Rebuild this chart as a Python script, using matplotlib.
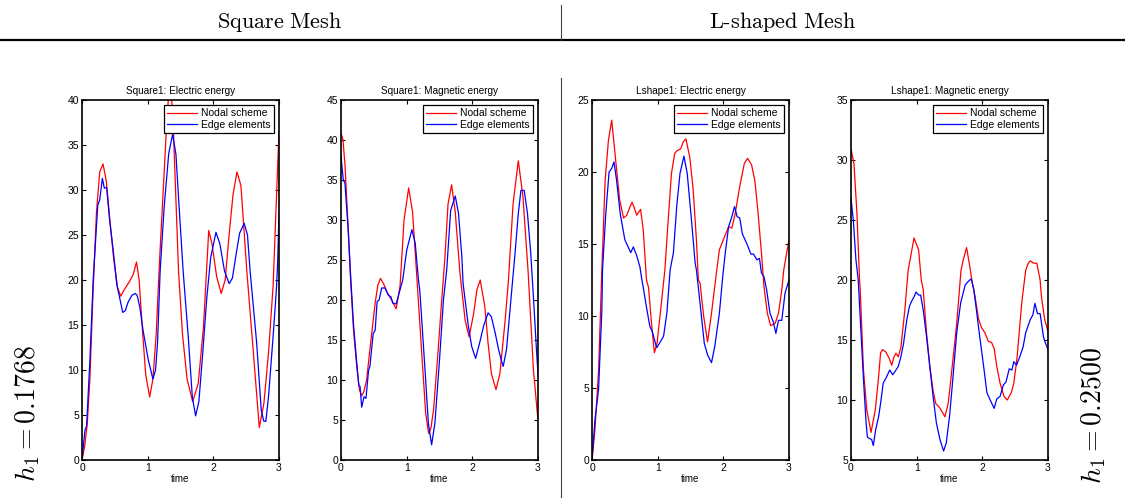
import matplotlib
matplotlib.use("Agg")
import matplotlib.pyplot as plt
from matplotlib.lines import Line2D

plt.rcParams['font.family'] = ['Liberation Sans', 'DejaVu Sans']
plt.rcParams['mathtext.fontset'] = 'cm'

# Square1: electric energy
sq_elec_nodal_t = [0, 0.04, 0.08, 0.12, 0.17, 0.22, 0.27, 0.32, 0.37, 0.42, 0.48, 0.54, 0.59,
                   0.65, 0.72, 0.78, 0.83, 0.87, 0.92, 0.97, 1.03, 1.08, 1.13, 1.18, 1.23, 1.28,
                   1.33, 1.38, 1.43, 1.47, 1.53, 1.6, 1.685, 1.77, 1.85, 1.93, 1.98, 2.05, 2.12,
                   2.18, 2.24, 2.3, 2.36, 2.42, 2.51, 2.61, 2.7, 2.77, 2.84, 2.91, 2.95, 3.0]
sq_elec_nodal_v = [0, 1.5, 4, 9, 19, 27.5, 32, 32.9, 31, 27, 22.5, 19.2, 18.2,
                   19.0, 19.8, 20.6, 22.0, 20, 14.5, 9.5, 7.0, 9, 14, 22, 29, 36,
                   42, 39, 29, 21, 14, 9, 6.5, 8.5, 14.8, 25.5, 24, 20.4, 18.5,
                   20, 25, 29.5, 32, 30.5, 21, 11.9, 3.6, 6.3, 11.9, 19.3, 27, 36.5]
sq_elec_edge_t = [0, 0.02, 0.045, 0.07, 0.12, 0.17, 0.24, 0.27, 0.31, 0.34, 0.375, 0.42, 0.48,
                  0.53, 0.58, 0.62, 0.66, 0.7, 0.76, 0.81, 0.84, 0.88, 0.93, 1.01, 1.08, 1.12,
                  1.15, 1.19, 1.25, 1.32, 1.38, 1.43, 1.48, 1.54, 1.62, 1.68, 1.73, 1.78, 1.84,
                  1.9, 1.96, 2.04, 2.1, 2.17, 2.24, 2.29, 2.35, 2.4, 2.47, 2.52, 2.56, 2.66,
                  2.73, 2.77, 2.8, 2.84, 2.91, 2.96, 2.98, 3.0]
sq_elec_edge_v = [0, 1.5, 3.3, 3.8, 11, 20, 28.3, 28.9, 31.3, 30.2, 30.3, 26.7, 23,
                  19.5, 17.8, 16.4, 16.6, 17.5, 18.3, 18.5, 18.3, 17, 14.4, 11.1, 9.0, 10,
                  13, 21, 28, 34, 36.2, 34, 28, 21, 13.5, 7, 4.9, 6.5, 12,
                  18, 22.5, 25.3, 24, 21, 19.6, 20.2, 23, 25.2, 26.3, 25, 21, 13,
                  5.5, 4.3, 4.3, 7, 13.7, 18.9, 22, 27.5]

# Square1: magnetic energy
sq_mag_nodal_t = [0, 0.03, 0.06, 0.11, 0.14, 0.19, 0.24, 0.28, 0.315, 0.35, 0.39, 0.44, 0.52,
                  0.56, 0.6, 0.65, 0.7, 0.77, 0.84, 0.9, 0.96, 1.03, 1.09, 1.15, 1.23, 1.29,
                  1.335, 1.37, 1.41, 1.48, 1.53, 1.58, 1.63, 1.685, 1.74, 1.81, 1.89, 1.95,
                  2.02, 2.07, 2.12, 2.19, 2.24, 2.29, 2.36, 2.42, 2.5, 2.55, 2.62, 2.7, 2.77,
                  2.85, 2.93, 3.0]
sq_mag_nodal_v = [40.9, 40, 37, 28.8, 23.5, 16.3, 11.7, 8.8, 8.0, 8.6, 10, 13.8, 19.6,
                  21.8, 22.7, 22, 21, 20, 18.9, 21.8, 30, 34, 31, 23.5, 13.3, 5.8,
                  3.3, 4, 6.3, 13.8, 19.6, 25, 32, 34.4, 31, 23.5, 17.5, 15.4,
                  18.3, 21.3, 22.5, 19.2, 14.6, 10.8, 8.8, 10.8, 17.5, 22.5, 32, 37.4, 33,
                  23.5, 11.3, 4.9]
sq_mag_edge_t = [0, 0.035, 0.06, 0.11, 0.15, 0.19, 0.24, 0.27, 0.29, 0.315, 0.35, 0.38, 0.42,
                 0.44, 0.49, 0.52, 0.55, 0.58, 0.62, 0.67, 0.72, 0.76, 0.79, 0.84, 0.89, 0.94,
                 1.0, 1.08, 1.13, 1.18, 1.2, 1.28, 1.33, 1.38, 1.43, 1.5, 1.56, 1.61, 1.67,
                 1.74, 1.79, 1.84, 1.86, 1.94, 1.99, 2.05, 2.11, 2.17, 2.24, 2.29, 2.35, 2.4,
                 2.44, 2.47, 2.52, 2.56, 2.6, 2.65, 2.7, 2.74, 2.79, 2.84, 2.89, 2.93, 2.98, 3.0]
sq_mag_edge_v = [38, 35, 34.6, 28.8, 22.5, 17, 12.1, 9.4, 9.2, 6.6, 7.9, 7.7, 11.2,
                 11.7, 15.8, 16.2, 19.8, 20, 21.5, 21.5, 20.6, 20.4, 19.6, 19.5, 21, 22.5,
                 26.2, 28.8, 27.1, 22.5, 21.2, 11.2, 4.6, 1.9, 4.6, 12.5, 20, 23.8, 31.2,
                 33, 30.8, 25.4, 22, 16.7, 14.2, 12.7, 14.6, 16.7, 18.4, 17.9, 15.8, 13.8,
                 12.5, 11.7, 13.8, 17.5, 21.2, 25.8, 30.8, 33.7, 33.7, 30.8, 25.8, 20.4, 13.3, 10.8]

# Lshape1: electric energy
ls_elec_nodal_t = [0, 0.045, 0.1, 0.15, 0.2, 0.25, 0.3, 0.35, 0.42, 0.48, 0.53, 0.58, 0.61,
                   0.645, 0.68, 0.74, 0.78, 0.83, 0.86, 0.91, 0.95, 0.99, 1.04, 1.11, 1.15, 1.21,
                   1.26, 1.3, 1.35, 1.39, 1.43, 1.49, 1.54, 1.59, 1.62, 1.645, 1.7, 1.76, 1.82,
                   1.9, 1.94, 2.0, 2.08, 2.13, 2.18, 2.25, 2.32, 2.37, 2.43, 2.48, 2.53, 2.58,
                   2.62, 2.67, 2.72, 2.79, 2.84, 2.89, 2.92, 3.0]
ls_elec_nodal_v = [0, 2.1, 6.2, 13.2, 19.4, 22.2, 23.6, 21.3, 18.1, 16.8, 17.0, 17.6, 17.9,
                   17.5, 17.0, 17.4, 16.0, 12.5, 12.0, 9.3, 7.45, 8.1, 10.2, 13.2, 16, 19.9,
                   21.3, 21.5, 21.6, 22.1, 22.3, 21, 18.8, 15.3, 12.5, 12.3, 10, 8.2, 10.2,
                   13.2, 14.6, 15.3, 16.2, 16.1, 17.1, 19, 20.6, 20.95, 20.5, 19.4, 17.1, 14.4,
                   12.0, 10.2, 9.33, 9.5, 10.2, 11.8, 13.2, 15.3]
ls_elec_edge_t = [0, 0.045, 0.1, 0.15, 0.16, 0.21, 0.26, 0.3, 0.335, 0.375, 0.43, 0.5, 0.55,
                  0.59, 0.63, 0.68, 0.73, 0.76, 0.78, 0.83, 0.88, 0.92, 0.96, 0.985, 1.04, 1.09,
                  1.14, 1.19, 1.24, 1.29, 1.34, 1.4, 1.45, 1.52, 1.57, 1.59, 1.645, 1.71, 1.76,
                  1.82, 1.87, 1.94, 1.99, 2.03, 2.08, 2.13, 2.17, 2.21, 2.25, 2.29, 2.36, 2.42,
                  2.46, 2.51, 2.55, 2.58, 2.62, 2.66, 2.71, 2.76, 2.8, 2.84, 2.89, 2.94, 3.0]
ls_elec_edge_v = [0, 2.8, 4.9, 10.4, 13.2, 17.1, 20, 20.25, 20.7, 19.4, 17.1, 15.3, 14.8,
                  14.4, 14.8, 14.2, 13.4, 12.5, 12.0, 10.6, 9.3, 8.9, 8.2, 7.8, 8.2, 8.6,
                  10.2, 13.2, 14.4, 17.6, 19.9, 21.1, 19.9, 16.4, 13.7, 13.2, 10.9, 8.1, 7.3,
                  6.76, 7.9, 10.2, 12.7, 14.4, 16.2, 16.9, 17.6, 16.9, 16.8, 15.7, 15.0, 14.3,
                  14.3, 13.9, 14.0, 13.0, 12.7, 11.8, 10.2, 9.6, 8.8, 9.7, 9.7, 11.6, 12.5]

# Lshape1: magnetic energy
ls_mag_nodal_t = [0, 0.045, 0.09, 0.13, 0.14, 0.19, 0.24, 0.305, 0.37, 0.42, 0.45, 0.48, 0.53,
                  0.58, 0.62, 0.655, 0.685, 0.72, 0.76, 0.82, 0.87, 0.9, 0.96, 1.03, 1.07, 1.1,
                  1.15, 1.2, 1.25, 1.29, 1.345, 1.4, 1.43, 1.48, 1.53, 1.61, 1.675, 1.71, 1.76,
                  1.81, 1.84, 1.89, 1.94, 1.99, 2.04, 2.09, 2.14, 2.18, 2.22, 2.27, 2.33, 2.38,
                  2.44, 2.48, 2.53, 2.6, 2.66, 2.7, 2.73, 2.78, 2.83, 2.88, 2.9, 2.95, 3.0]
ls_mag_nodal_v = [30.9, 29.7, 25.6, 20, 19.2, 12.5, 9.2, 7.3, 9.2, 11.9, 13.9, 14.2, 14.0,
                  13.5, 12.9, 13.6, 13.9, 13.6, 14.4, 17.5, 20.8, 21.7, 23.5, 22.5, 20, 19.2,
                  15.6, 12.8, 10.8, 9.7, 9.4, 8.9, 8.6, 9.7, 12.2, 16.4, 20.8, 21.7, 22.7,
                  21.1, 20, 18.6, 16.8, 16, 15.6, 14.9, 14.8, 14.3, 12.8, 11.4, 10.3, 10.0,
                  10.6, 11.4, 13.6, 18.1, 20.8, 21.4, 21.6, 21.4, 21.4, 20, 18.6, 16.7, 15.7]
ls_mag_edge_t = [0, 0.035, 0.075, 0.11, 0.14, 0.19, 0.23, 0.25, 0.28, 0.315, 0.34, 0.375, 0.42,
                 0.45, 0.49, 0.53, 0.59, 0.635, 0.685, 0.72, 0.76, 0.8, 0.85, 0.89, 0.92, 0.96,
                 0.99, 1.03, 1.06, 1.1, 1.15, 1.2, 1.25, 1.3, 1.355, 1.41, 1.45, 1.5, 1.55,
                 1.61, 1.67, 1.74, 1.79, 1.83, 1.87, 1.91, 1.96, 2.02, 2.07, 2.12, 2.18, 2.22,
                 2.27, 2.32, 2.36, 2.41, 2.45, 2.48, 2.52, 2.57, 2.62, 2.66, 2.73, 2.77, 2.8,
                 2.84, 2.88, 2.93, 2.95, 3.0]
ls_mag_edge_v = [26.8, 25, 21.7, 20, 16.9, 11.7, 8.1, 6.9, 6.8, 6.7, 6.2, 7.5, 8.6,
                 9.7, 11.4, 11.8, 12.5, 12.1, 12.5, 12.8, 13.6, 14.7, 16.7, 17.8, 18.2, 18.6,
                 19.0, 18.75, 18.75, 17.5, 15.3, 12.8, 10.3, 8.1, 6.7, 5.75, 6.4, 8.6, 11.7,
                 15.6, 18.1, 19.6, 19.9, 20.1, 19.2, 17.5, 15.3, 12.8, 10.6, 10, 9.3, 10.1,
                 10.3, 11.25, 11.5, 12.6, 12.5, 13.2, 12.9, 13.6, 14.4, 15.6, 16.7, 17.1, 18.05,
                 17.2, 17.2, 15.3, 14.9, 14.2]

titles = ['Square1: Electric energy', 'Square1: Magnetic energy',
          'Lshape1: Electric energy', 'Lshape1: Magnetic energy']
y_limits = [(0, 40), (0, 45), (0, 25), (5, 35)]
series = [
    (sq_elec_nodal_t, sq_elec_nodal_v, sq_elec_edge_t, sq_elec_edge_v),
    (sq_mag_nodal_t, sq_mag_nodal_v, sq_mag_edge_t, sq_mag_edge_v),
    (ls_elec_nodal_t, ls_elec_nodal_v, ls_elec_edge_t, ls_elec_edge_v),
    (ls_mag_nodal_t, ls_mag_nodal_v, ls_mag_edge_t, ls_mag_edge_v),
]
lefts = [82, 341, 592, 851]

W, H = 1125, 498
fig = plt.figure(figsize=(W / 100, H / 100), dpi=100)

for i in range(4):
    ax = fig.add_axes([lefts[i] / W, (H - 460) / H, 197 / W, 360 / H])
    nt, nv, et, ev = series[i]
    ax.plot(nt, nv, color='#ff0000', lw=0.9, label='Nodal scheme')
    ax.plot(et, ev, color='#0000ff', lw=0.9, label='Edge elements')
    ax.set_xlim(0, 3)
    ax.set_ylim(*y_limits[i])
    ax.set_xticks([0, 1, 2, 3])
    ax.tick_params(direction='in', length=3, width=0.8, labelsize=7.5,
                   top=True, right=True, pad=2)
    for sp in ax.spines.values():
        sp.set_linewidth(1.2)
    ax.set_title(titles[i], fontsize=7.2, pad=4)
    ax.set_xlabel('time', fontsize=7, labelpad=1)
    leg = ax.legend(loc='upper right', fontsize=7.5, fancybox=False, framealpha=1,
                    edgecolor='black', borderaxespad=0.5, handlelength=2.9,
                    borderpad=0.3, labelspacing=0.15, handletextpad=0.4)
    leg.get_frame().set_linewidth(0.9)

# table-style header and separators
fig.add_artist(Line2D([0, 1], [1 - 40 / H, 1 - 40 / H], transform=fig.transFigure,
                      color='black', lw=1.6))
fig.add_artist(Line2D([561 / W, 561 / W], [1 - 5 / H, 1 - 40 / H], transform=fig.transFigure,
                      color='#444444', lw=0.8))
fig.add_artist(Line2D([561 / W, 561 / W], [1 - 78 / H, 0], transform=fig.transFigure,
                      color='#444444', lw=0.8))
fig.text(280 / W, 1 - 22 / H, r'$\mathrm{Square\ Mesh}$', fontsize=16, ha='center', va='center')
fig.text(783 / W, 1 - 22 / H, r'$\mathrm{L\text{-}shaped\ Mesh}$', fontsize=16, ha='center', va='center')
fig.text(28 / W, 1 - 414 / H, r'$h_1 = 0.1768$', fontsize=20, rotation=90, ha='center', va='center')
fig.text(1094 / W, 1 - 416 / H, r'$h_1 = 0.2500$', fontsize=20, rotation=90, ha='center', va='center')

fig.savefig('out.png', dpi=100)
